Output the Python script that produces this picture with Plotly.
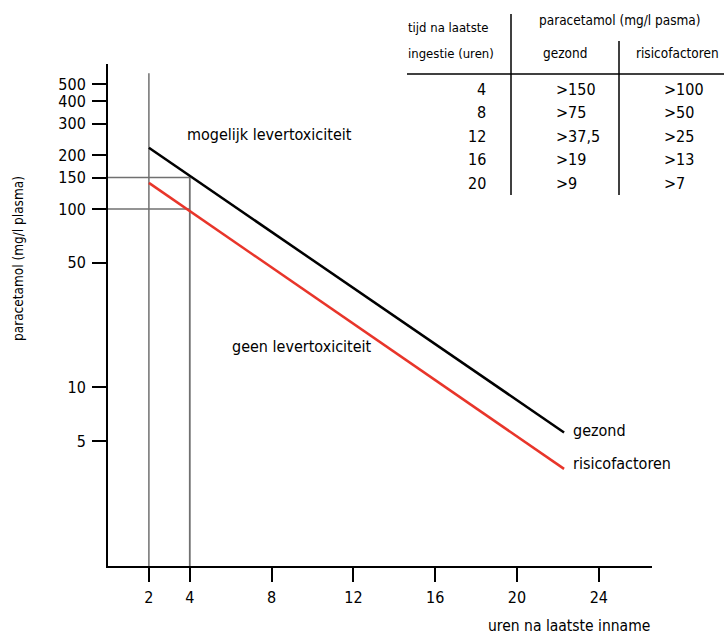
import plotly.graph_objects as go
import math

# ---- data ----
hours = [2, 22.3]
gezond = [220, 5.6]
risico = [140, 3.5]

ref_hours = [2, 4]
ref_levels = [150, 100]

y_ticks = [5, 10, 50, 100, 150, 200, 300, 400, 500]
x_ticks = [2, 4, 8, 12, 16, 20, 24]

tbl_hours = ["4", "8", "12", "16", "20"]
tbl_gezond = [">150", ">75", ">37,5", ">19", ">9"]
tbl_risico = [">100", ">50", ">25", ">13", ">7"]

FONT = "DejaVu Sans Condensed, Liberation Sans Narrow, sans-serif"
W, H = 724, 634
L, R, T, B = 108, 652, 64, 566

def px(x):
    return (x - L) / (R - L)

def py(y):
    return (B - y) / (B - T)

y_lo_log, y_hi_log = 0.0, 2.812
fig = go.Figure()

ref_col = "#707070"
fig.add_trace(go.Scatter(x=[ref_hours[0], ref_hours[0]], y=[1, 575], mode="lines",
                         line=dict(color=ref_col, width=1.5), showlegend=False, hoverinfo="skip"))
fig.add_trace(go.Scatter(x=[ref_hours[1], ref_hours[1]], y=[1, ref_levels[0]], mode="lines",
                         line=dict(color=ref_col, width=1.8), showlegend=False, hoverinfo="skip"))
for lv in ref_levels:
    fig.add_trace(go.Scatter(x=[-0.2, ref_hours[1]], y=[lv, lv], mode="lines", cliponaxis=False,
                             line=dict(color=ref_col, width=1.5), showlegend=False, hoverinfo="skip"))

fig.add_trace(go.Scatter(x=hours, y=gezond, mode="lines", line=dict(color="black", width=2.5),
                         showlegend=False, name="gezond"))
fig.add_trace(go.Scatter(x=hours, y=risico, mode="lines", line=dict(color="#e8352a", width=2.5),
                         showlegend=False, name="risicofactoren"))

ann = []
def txt(x, y, s, size=16, xanchor="left", yanchor="middle", textangle=0):
    ann.append(dict(x=px(x), y=py(y), xref="paper", yref="paper", text=s, showarrow=False,
                    xanchor=xanchor, yanchor=yanchor, textangle=textangle,
                    font=dict(family=FONT, size=size, color="black")))

txt(185, 134, "mogelijk levertoxiciteit", 16)
txt(374, 346, "geen levertoxiciteit", 16, xanchor="right")
txt(571, 430, "gezond", 16)
txt(571, 463, "risicofactoren", 16)
txt(652, 626, "uren na laatste inname", 15.5, xanchor="right")
txt(18, 259, "paracetamol (mg/l plasma)", 13.5, xanchor="center", textangle=-90)

# table
txt(406, 27, "tijd na laatste", 13)
txt(406, 53, "ingestie (uren)", 13)
txt(620, 20, "paracetamol (mg/l pasma)", 13.5, xanchor="center")
txt(565, 53, "gezond", 13.5, xanchor="center")
txt(677, 53, "risicofactoren", 13.5, xanchor="center")
row_y = [90, 112, 136, 159, 183]
for i in range(len(tbl_hours)):
    txt(488, row_y[i], tbl_hours[i], 16, xanchor="right")
    txt(554, row_y[i], tbl_gezond[i], 16)
    txt(662, row_y[i], tbl_risico[i], 16)

shapes = [
    dict(type="line", xref="paper", yref="paper", x0=px(511), x1=px(511), y0=py(14), y1=py(195),
         line=dict(color="black", width=1.5)),
    dict(type="line", xref="paper", yref="paper", x0=px(619), x1=px(619), y0=py(41), y1=py(195),
         line=dict(color="black", width=1.5)),
    dict(type="line", xref="paper", yref="paper", x0=px(407), x1=px(724), y0=py(74), y1=py(74),
         line=dict(color="black", width=1.5)),
]

fig.update_layout(
    width=W, height=H,
    margin=dict(l=L, r=W - R, t=T, b=H - B, autoexpand=False),
    paper_bgcolor="white", plot_bgcolor="white",
    annotations=ann, shapes=shapes,
    font=dict(family=FONT, size=16, color="black"),
    xaxis=dict(range=[0, 26.6], tickvals=x_ticks, ticks="outside", ticklen=14, tickwidth=1.5,
               tickcolor="black", showline=True, linecolor="black", linewidth=2,
               showgrid=False, zeroline=False, tickfont=dict(family=FONT, size=16),
               ticklabelstandoff=2),
    yaxis=dict(type="log", range=[y_lo_log, y_hi_log], tickvals=y_ticks,
               ticktext=[str(v) for v in y_ticks], ticks="outside", ticklen=14, tickwidth=1.5,
               tickcolor="black", showline=True, linecolor="black", linewidth=2,
               showgrid=False, zeroline=False, tickfont=dict(family=FONT, size=16),
               ticklabelstandoff=3),
)

fig.write_html("out.html", config={"displayModeBar": False},
               post_script="document.body.style.margin='0px';")
